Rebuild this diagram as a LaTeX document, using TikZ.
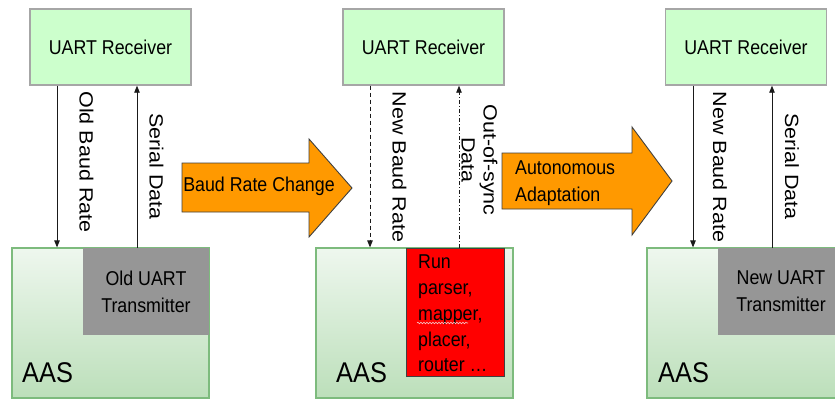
\documentclass[tikz,border=0pt]{standalone}
\usepackage{fontspec}
\setmainfont{Liberation Sans}[FakeStretch=0.89]
\newfontfamily\uprightlab{Liberation Sans}
\usetikzlibrary{arrows.meta,decorations.pathmorphing}
\definecolor{rxfill}{HTML}{CCFFCC}
\definecolor{rxline}{HTML}{A6A6A6}
\definecolor{aastop}{HTML}{EEF7EE}
\definecolor{aasbot}{HTML}{BCDFBA}
\definecolor{aasline}{HTML}{7DBB7D}
\definecolor{txgray}{HTML}{969696}
\definecolor{runred}{HTML}{FF0000}
\definecolor{darkline}{HTML}{404040}
\definecolor{arrfill}{HTML}{FF9900}
\definecolor{linkc}{HTML}{1A1A1A}
\definecolor{squig}{HTML}{F2C8C8}
% vertical (top-to-bottom) labels beside the links
\newcommand\vlab[1]{\scalebox{0.89}[1]{\rotatebox{-90}{\uprightlab\fontsize{21.5}{24.5}\selectfont\begin{tabular}{@{}c@{}}#1\end{tabular}}}}
\begin{document}
\begin{tikzpicture}[x=1pt,y=-1pt,
  rx/.style={draw=rxline, line width=1.4pt, fill=rxfill, minimum width=161pt,
    minimum height=76pt, inner sep=0pt, font=\fontsize{20}{24}\selectfont},
  aas/.style={draw=aasline, line width=1.2pt, top color=aastop, bottom color=aasbot,
    minimum width=197pt, minimum height=150pt, inner sep=0pt},
  tx/.style={fill=txgray, minimum width=126pt, minimum height=87pt, inner sep=0pt,
    align=center, font=\fontsize{20}{27}\selectfont},
  redbox/.style={fill=runred, draw=darkline, line width=0.8pt, minimum width=98pt,
    minimum height=128pt, inner sep=0pt},
  link/.style={draw=linkc, line width=0.9pt, -{Triangle[length=7pt,width=5.5pt]}},
  bigarrow/.style={draw=darkline, line width=0.9pt, fill=arrfill, line join=miter},
  aaslab/.style={anchor=base west, inner sep=0pt, font=\fontsize{28.5}{30}\selectfont},
  vtext/.style={inner sep=0pt},
  arrtext/.style={inner sep=0pt, font=\fontsize{20}{27}\selectfont}]
\useasboundingbox (0,0) rectangle (835,400);
\fill[white] (0,0) rectangle (835,400);

% ---------- left: old baud rate ----------
\node[aas] (a1) at (110.5,323) {};
\node[tx] (t1) at (146,291.5) {Old UART\\Transmitter};
\node[rx] (r1) at (110.5,47) {UART Receiver};
\node[aaslab] (l1) at (22,382) {AAS};
\coordinate (d1) at (57,0);
\coordinate (u1) at (137,0);
\draw[link] (r1.south -| d1) -- (a1.north -| d1);
\draw[link] (t1.north -| u1) -- (r1.south -| u1);
\node[vtext] (v1) at (84,162) {\vlab{Old Baud Rate}};
\node[vtext] (s1) at (154,166.5) {\vlab{Serial Data}};

% ---------- middle: baud rate changed ----------
\node[aas] (a2) at (414.5,323) {};
\node[redbox] (p2) at (455,312) {};
\node[anchor=north west, inner sep=0pt, align=left, font=\fontsize{20}{25.7}\selectfont]
  (p2t) at (418,255) {Run\\parser,\\mapper,\\placer,\\router …};
\draw[decorate, decoration={snake, amplitude=0.8pt, segment length=3pt},
  draw=squig, line width=0.6pt] (417,323) -- (468,323);
\node[rx] (r2) at (423.5,47) {UART Receiver};
\node[aaslab] (l2) at (336,382) {AAS};
\coordinate (d2) at (370,0);
\coordinate (u2) at (459,0);
\draw[link, dash pattern=on 4pt off 3pt] (r2.south -| d2) -- (a2.north -| d2);
\draw[link, dash pattern=on 4pt off 2pt on 1pt off 2pt] (p2.north -| u2) -- (r2.south -| u2);
\node[vtext] (v2) at (397,167) {\vlab{New Baud Rate}};
\node[vtext] (s2) at (477,160) {\vlab{Out-of-sync\\Data}};

% ---------- right: adapted ----------
\node[aas] (a3) at (745.5,323) {};
\node[tx] (t3) at (781,291.5) {New UART\\Transmitter};
\node[rx] (r3) at (746,47) {UART Receiver};
\node[aaslab] (l3) at (658,382) {AAS};
\coordinate (d3) at (693,0);
\coordinate (u3) at (772,0);
\draw[link] (r3.south -| d3) -- (a3.north -| d3);
\draw[link] (t3.north -| u3) -- (r3.south -| u3);
\node[vtext] (v3) at (717.5,167) {\vlab{New Baud Rate}};
\node[vtext] (s3) at (789.5,166.5) {\vlab{Serial Data}};

% ---------- transition arrows ----------
\filldraw[bigarrow] (182,163) -- (309,163) -- (309,139) -- (352,188) -- (309,237)
  -- (309,212) -- (182,212) -- cycle;
\node[arrtext] (c1) at (259,186.5) {Baud Rate Change};
\filldraw[bigarrow] (502,153) -- (632,153) -- (632,127) -- (672,181) -- (632,235)
  -- (632,209) -- (502,209) -- cycle;
\node[arrtext, anchor=west, align=left] (c2) at (515,183.5) {Autonomous\\Adaptation};
\end{tikzpicture}
\end{document}
